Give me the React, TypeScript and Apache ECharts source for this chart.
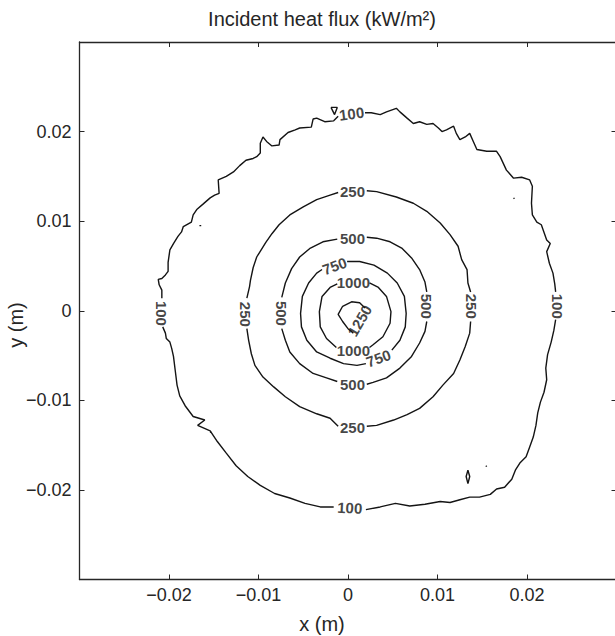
import { useEffect, useRef } from 'react';
import * as echarts from 'echarts';

// Contour coordinates in millimetres ([x, y]), one array per unbroken piece of line
const contour100 = [
  [[1.9,22.1],[2.6,22.1],[3.6,21.9],[4.3,22.2],[5.4,22.6],[5.8,22.2],[6.6,21.5],[7.3,20.9],[8.0,21.1],[8.8,20.8],[9.5,20.9],[10.1,20.4],[10.5,20.0],[11.0,20.2],[11.8,20.6],[12.1,19.8],[12.5,19.1],[13.1,19.4],[13.6,19.8],[14.0,18.9],[14.4,18.0],[15.5,17.8],[16.6,17.8],[17.0,17.2],[17.7,15.7],[18.5,14.8],[19.4,14.9],[20.3,14.6],[20.6,13.9],[20.5,12.0],[20.6,10.7],[21.1,9.9],[21.6,9.6],[22.2,7.9],[22.6,7.5],[22.2,6.6],[22.5,5.3],[22.9,4.2],[23.1,3.0],[23.2,2.1]],
  [[23.2,-1.0],[23.0,-2.2],[22.7,-3.5],[22.3,-4.9],[22.1,-6.4],[22.2,-7.7],[21.9,-9.1],[21.5,-10.2],[21.2,-11.4],[21.0,-12.8],[20.7,-14.1],[20.3,-15.2],[19.9,-16.3],[19.2,-17.0],[18.7,-17.8],[18.3,-18.8],[17.5,-19.7],[16.6,-19.9],[15.9,-20.5],[14.7,-20.8],[13.6,-20.8],[12.5,-21.1],[11.4,-21.4],[10.3,-21.3],[8.6,-21.6],[6.9,-21.8],[5.3,-21.5],[3.6,-21.9],[2.0,-22.2]],
  [[-1.6,-21.9],[-3.1,-21.9],[-4.8,-21.5],[-6.5,-20.9],[-8.2,-20.4],[-9.8,-19.5],[-11.2,-18.5],[-12.5,-17.3],[-13.6,-15.9],[-14.6,-14.6],[-15.4,-13.4],[-16.8,-12.8],[-16.0,-12.2],[-17.3,-11.8],[-18.2,-10.6],[-18.8,-9.5],[-19.1,-8.3],[-19.3,-6.7],[-19.5,-5.1],[-19.7,-4.2],[-19.9,-3.5],[-20.3,-3.1],[-20.4,-2.5],[-20.7,-1.8]],
  [[-20.8,1.4],[-20.8,2.3],[-21.1,2.9],[-21.2,3.5],[-20.8,3.6],[-20.4,4.0],[-20.1,4.4],[-20.1,5.4],[-19.9,6.8],[-19.5,7.5],[-19.0,8.3],[-18.6,8.8],[-18.4,9.4],[-17.5,9.9],[-17.3,10.7],[-16.9,11.3],[-16.2,11.9],[-15.4,12.6],[-14.9,12.9],[-14.4,13.1],[-14.5,14.6],[-13.6,15.0],[-12.8,15.5],[-12.1,16.2],[-11.4,16.8],[-10.6,17.0],[-10.2,17.2],[-9.8,17.6],[-9.8,18.7],[-9.5,19.4],[-9.1,18.9],[-8.5,18.4],[-7.7,18.5],[-7.6,19.1],[-6.7,19.9],[-5.9,20.2],[-5.4,20.4],[-4.1,20.5],[-3.9,21.4],[-3.5,21.5],[-2.6,21.1],[-1.6,21.2],[-1.1,21.7]],
  [[-1.9,22.7],[-1.2,22.7],[-1.5,21.9],[-1.9,22.7]],
  [[13.4,-17.8],[13.6,-18.5],[13.4,-19.3],[13.2,-18.5],[13.4,-17.8]],
  [[-16.6,9.5],[-16.4,9.5]],
  [[18.5,12.6],[18.6,12.5]],
  [[-15.4,-13.5],[-15.3,-13.6]],
  [[15.4,-17.3],[15.5,-17.4]],
];

const contour250 = [
  [[2.1,13.4],[3.2,13.3],[5.4,12.7],[7.3,12.0],[8.8,11.1],[10.3,9.8],[11.4,8.5],[12.3,7.2],[12.7,5.7],[13.3,4.6],[13.4,3.1],[13.7,2.1]],
  [[13.7,-1.2],[13.6,-2.5],[13.1,-4.0],[12.5,-5.5],[11.8,-7.0],[10.6,-8.3],[9.5,-9.6],[8.0,-10.9],[6.6,-11.6],[5.1,-12.2],[3.2,-12.8],[2.1,-12.9]],
  [[-1.1,-12.9],[-2.0,-12.0],[-3.5,-11.5],[-5.4,-10.7],[-7.0,-9.6],[-8.3,-8.5],[-9.5,-7.4],[-10.4,-6.1],[-10.8,-4.8],[-11.1,-3.3],[-11.3,-2.0]],
  [[-11.3,1.4],[-11.0,2.7],[-10.9,3.4],[-10.6,4.8],[-10.2,6.0],[-9.7,6.8],[-9.2,7.6],[-8.5,8.6],[-7.7,9.6],[-6.5,10.7],[-5.0,11.6],[-3.5,12.4],[-2.0,12.9],[-1.1,13.2]],
];

const contour500 = [
  [[2.1,8.2],[3.2,8.1],[4.7,7.7],[6.0,7.0],[7.1,5.9],[8.0,4.6],[8.6,3.2],[8.8,2.1]],
  [[8.8,-1.2],[8.6,-2.3],[8.0,-3.6],[7.1,-5.1],[5.8,-6.4],[4.3,-7.5],[2.8,-8.0],[2.1,-8.2]],
  [[-1.2,-7.9],[-2.4,-7.5],[-3.9,-7.0],[-5.4,-5.9],[-6.5,-4.6],[-7.0,-3.3],[-7.4,-2.0]],
  [[-7.4,1.5],[-7.0,3.1],[-6.3,4.7],[-5.4,6.0],[-4.2,7.0],[-2.8,7.7],[-1.2,8.0]],
];

const contour750 = [
  [[-0.1,5.5],[1.3,5.5],[2.9,5.1],[4.4,4.2],[5.5,3.1],[6.3,1.6],[6.5,-0.3],[6.4,-1.8],[5.8,-3.3],[4.9,-4.4]],
  [[2.0,-5.9],[1.0,-6.1],[-0.5,-5.9],[-2.0,-5.3],[-3.5,-4.6],[-4.6,-3.3],[-5.2,-1.8],[-5.3,-0.3],[-5.1,1.6],[-4.4,3.1],[-3.5,4.2],[-2.9,4.6]],
];

const contour1000 = [
  [[2.4,3.1],[3.4,2.6],[4.3,1.6],[4.8,-0.1],[4.7,-1.4],[3.9,-2.9],[2.8,-3.8],[2.4,-4.1]],
  [[-1.3,-4.1],[-2.4,-3.1],[-3.1,-1.8],[-3.2,-0.1],[-2.9,1.6],[-2.0,2.6],[-1.2,3.0]],
];

const contour1250 = [
  [[1.9,0.3],[1.3,0.9],[0.4,1.0],[-0.6,0.5],[-1.1,-0.4],[-0.6,-1.2],[0.0,-2.0],[0.6,-2.5]],
];

// Contour labels: [x mm, y mm, level, angle in degrees]
const contourLabels = [
  [0.4, 22.0, 100, 7], [23.4, 0.5, 100, -90], [0.2, -22.0, 100, -3], [-20.8, -0.3, 100, -90],
  [0.5, 13.3, 250, 0], [13.8, 0.5, 250, -90], [0.5, -13.0, 250, 0], [-11.5, -0.4, 250, -90],
  [0.5, 8.1, 500, 0], [8.8, 0.5, 500, -90], [0.5, -8.2, 500, 0], [-7.4, -0.3, 500, -90],
  [-1.5, 5.0, 750, 20], [3.4, -5.3, 750, 20],
  [0.6, 3.1, 1000, 0], [0.6, -4.4, 1000, 0],
  [1.3, -1.1, 1250, 60],
];

const tickValues = [-20, -10, 0, 10, 20];
const tickLabels = ['\u22120.02', '\u22120.01', '0', '0.01', '0.02'];

const TITLE = 'Incident heat flux (kW/m\u00b2)';
const X_NAME = 'x (m)';
const Y_NAME = 'y (m)';

const FONT = '"Liberation Sans", Arial, Helvetica, sans-serif';
const AXIS_COLOR = '#262626';
const LINE_COLOR = '#141414';

export default function App() {
  const ref = useRef<HTMLDivElement>(null);

  useEffect(() => {
    if (!ref.current) return;
    const chart = echarts.init(ref.current, null, { renderer: 'svg' });

    const fmt = (v: number) => {
      const i = tickValues.indexOf(Math.round(v));
      return i >= 0 ? tickLabels[i] : '';
    };

    const baseAxis = {
      type: 'value' as const,
      min: -30,
      max: 30,
      interval: 10,
      splitLine: { show: false },
      axisLine: { show: true, onZero: false, lineStyle: { color: AXIS_COLOR, width: 1.3 } },
      axisTick: { show: true, inside: true, length: 5, lineStyle: { color: AXIS_COLOR, width: 1 } },
    };

    const groups = [contour100, contour250, contour500, contour750, contour1000, contour1250];
    const lineSeries: any[] = [];
    groups.forEach((segs) => {
      segs.forEach((seg) => {
        lineSeries.push({
          type: 'line',
          data: seg,
          showSymbol: false,
          symbol: 'none',
          silent: true,
          lineStyle: { color: LINE_COLOR, width: 1.4 },
          z: 2,
        });
      });
    });

    const labelSeries = {
      type: 'scatter',
      symbolSize: 1,
      itemStyle: { color: 'rgba(0,0,0,0)' },
      silent: true,
      z: 3,
      data: contourLabels.map((l) => ({
        value: [l[0], l[1], l[2]],
        label: { rotate: l[3] },
      })),
      label: {
        show: true,
        position: 'inside',
        formatter: (p: any) => String(p.value[2]),
        fontFamily: FONT,
        fontSize: 15,
        fontWeight: 'bold',
        color: LINE_COLOR,
      },
      labelLayout: { hideOverlap: false },
    };

    chart.setOption({
      animation: false,
      backgroundColor: '#ffffff',
      grid: { left: 79.5, top: 42, width: 537, height: 537.5, outerBoundsMode: 'none', containLabel: false },
      xAxis: [
        {
          ...baseAxis,
          position: 'bottom',
          axisLabel: { show: true, formatter: fmt, margin: 6, fontFamily: FONT, fontSize: 18, color: AXIS_COLOR },
        },
        { ...baseAxis, position: 'top', axisLabel: { show: false } },
      ],
      yAxis: [
        {
          ...baseAxis,
          position: 'left',
          axisLabel: { show: true, formatter: fmt, margin: 8, fontFamily: FONT, fontSize: 18, color: AXIS_COLOR },
        },
        {
          ...baseAxis,
          position: 'right',
          axisLine: { show: false, onZero: false },
          axisLabel: { show: false },
        },
      ],
      graphic: [
        {
          type: 'text',
          x: 322,
          y: 19,
          style: { text: TITLE, font: `20px ${FONT}`, fill: AXIS_COLOR, textAlign: 'center', textVerticalAlign: 'middle' },
        },
        {
          type: 'text',
          x: 322,
          y: 624,
          style: { text: X_NAME, font: `20px ${FONT}`, fill: AXIS_COLOR, textAlign: 'center', textVerticalAlign: 'middle' },
        },
        {
          type: 'text',
          x: 16,
          y: 325,
          rotation: Math.PI / 2,
          style: { text: Y_NAME, font: `20px ${FONT}`, fill: AXIS_COLOR, textAlign: 'center', textVerticalAlign: 'middle' },
        },
      ],
      series: [...lineSeries, labelSeries],
    });

    return () => chart.dispose();
  }, []);

  return (
    <div
      ref={ref}
      style={{ position: 'fixed', left: 0, top: 0, width: 615, height: 636, background: '#fff' }}
    />
  );
}
